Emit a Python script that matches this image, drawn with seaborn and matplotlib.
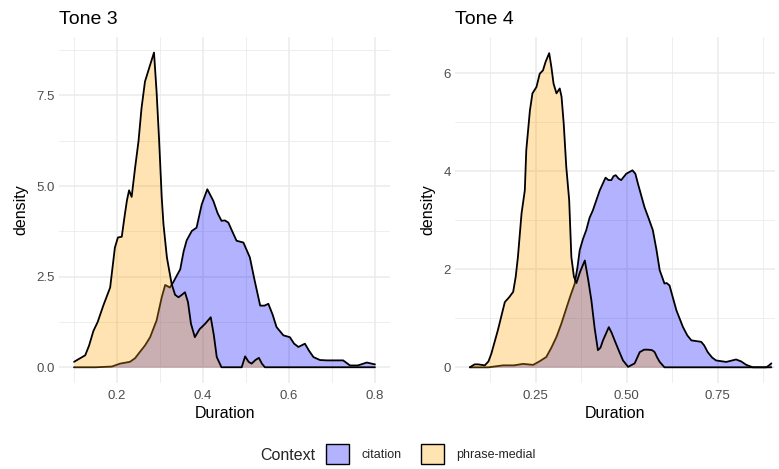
import numpy as np
import pandas as pd
import matplotlib
matplotlib.use("Agg")
import matplotlib.pyplot as plt
import seaborn as sns
from matplotlib.patches import Patch
from matplotlib.ticker import FixedLocator

# ---------------- data ----------------
contexts = ["citation", "phrase-medial"]
panel_titles = ["Tone 3", "Tone 4"]

t3_medial_x = [0.100, 0.110, 0.126, 0.135, 0.145, 0.155, 0.168, 0.184, 0.195, 0.202,
               0.211, 0.218, 0.223, 0.228, 0.234, 0.242, 0.250, 0.257, 0.265, 0.277,
               0.286, 0.292, 0.298, 0.304, 0.308, 0.316, 0.327, 0.335, 0.343, 0.351,
               0.358, 0.365, 0.372, 0.381, 0.392, 0.405, 0.418, 0.425, 0.432, 0.443,
               0.490, 0.498, 0.506, 0.513, 0.522, 0.530, 0.537, 0.544, 0.800]
t3_medial_y = [0.15, 0.22, 0.33, 0.60, 1.00, 1.25, 1.70, 2.20, 3.30, 3.58,
               3.60, 4.20, 4.60, 4.88, 4.70, 5.50, 6.24, 7.15, 7.88, 8.34,
               8.68, 7.60, 6.24, 4.68, 3.95, 3.03, 2.30, 2.00, 1.93, 2.00,
               2.07, 1.80, 1.20, 0.83, 1.05, 1.20, 1.38, 0.90, 0.28, 0.00,
               0.00, 0.30, 0.15, 0.10, 0.20, 0.26, 0.10, 0.00, 0.00]

t3_citation_x = [0.100, 0.150, 0.188, 0.207, 0.230, 0.242, 0.253, 0.265, 0.277, 0.292,
                 0.304, 0.312, 0.323, 0.331, 0.340, 0.347, 0.355, 0.362, 0.374, 0.385,
                 0.397, 0.410, 0.424, 0.434, 0.443, 0.451, 0.459, 0.468, 0.478, 0.494,
                 0.509, 0.520, 0.533, 0.543, 0.552, 0.562, 0.571, 0.587, 0.602, 0.612,
                 0.622, 0.637, 0.647, 0.657, 0.672, 0.688, 0.726, 0.742, 0.760, 0.781, 0.800]
t3_citation_y = [0.00, 0.00, 0.02, 0.10, 0.15, 0.25, 0.42, 0.60, 0.83, 1.29,
                 1.93, 2.27, 2.20, 2.35, 2.55, 2.70, 3.20, 3.50, 3.76, 3.85,
                 4.49, 4.91, 4.59, 4.25, 4.04, 4.05, 3.99, 3.75, 3.49, 3.44,
                 3.03, 2.40, 1.70, 1.70, 1.75, 1.45, 1.11, 0.88, 0.83, 0.65,
                 0.56, 0.65, 0.45, 0.28, 0.20, 0.19, 0.19, 0.05, 0.05, 0.13, 0.08]

t4_medial_x = [0.069, 0.073, 0.082, 0.092, 0.110, 0.120, 0.128, 0.146, 0.165, 0.177,
               0.188, 0.195, 0.201, 0.211, 0.220, 0.224, 0.234, 0.241, 0.252, 0.261,
               0.270, 0.277, 0.287, 0.293, 0.299, 0.307, 0.316, 0.321, 0.327, 0.334,
               0.342, 0.348, 0.355, 0.362, 0.372, 0.385, 0.394, 0.403, 0.412, 0.421,
               0.428, 0.435, 0.451, 0.459, 0.467, 0.478, 0.490, 0.504, 0.522, 0.536,
               0.548, 0.559, 0.570, 0.577, 0.584, 0.591, 0.604, 0.898]
t4_medial_y = [0.00, 0.02, 0.06, 0.06, 0.04, 0.12, 0.28, 0.76, 1.33, 1.43,
               1.54, 1.85, 2.25, 3.14, 3.61, 4.43, 5.24, 5.59, 5.72, 5.99,
               6.06, 6.23, 6.41, 6.13, 5.79, 5.59, 5.69, 5.52, 4.97, 4.09,
               3.41, 2.25, 1.85, 1.72, 1.95, 2.18, 1.80, 1.37, 0.80, 0.35,
               0.40, 0.55, 0.82, 0.70, 0.55, 0.35, 0.14, 0.01, 0.08, 0.31,
               0.36, 0.36, 0.35, 0.31, 0.20, 0.11, 0.00, 0.00]

t4_citation_x = [0.069, 0.120, 0.160, 0.190, 0.215, 0.243, 0.260, 0.279, 0.293, 0.307,
                 0.320, 0.334, 0.345, 0.357, 0.365, 0.371, 0.380, 0.389, 0.398, 0.407,
                 0.426, 0.442, 0.450, 0.458, 0.464, 0.470, 0.478, 0.485, 0.499, 0.516,
                 0.524, 0.531, 0.549, 0.560, 0.572, 0.582, 0.591, 0.604, 0.610, 0.618,
                 0.628, 0.637, 0.655, 0.667, 0.678, 0.705, 0.713, 0.723, 0.735, 0.746,
                 0.774, 0.801, 0.815, 0.829, 0.847, 0.884, 0.890, 0.898]
t4_citation_y = [0.00, 0.00, 0.04, 0.04, 0.07, 0.05, 0.12, 0.21, 0.40, 0.62,
                 0.88, 1.20, 1.45, 1.70, 2.05, 2.39, 2.62, 2.80, 3.05, 3.20,
                 3.61, 3.87, 3.82, 3.82, 3.90, 3.92, 3.85, 3.82, 3.95, 4.02,
                 3.95, 3.75, 3.27, 3.05, 2.80, 2.40, 1.98, 1.71, 1.72, 1.67,
                 1.40, 1.16, 0.82, 0.65, 0.55, 0.52, 0.45, 0.31, 0.20, 0.14,
                 0.11, 0.16, 0.12, 0.05, 0.00, 0.00, 0.03, 0.08]

t3_xticks = [0.2, 0.4, 0.6, 0.8]
t3_xtick_labels = ["0.2", "0.4", "0.6", "0.8"]
t3_yticks = [0.0, 2.5, 5.0, 7.5]
t3_ytick_labels = ["0.0", "2.5", "5.0", "7.5"]
t4_xticks = [0.25, 0.50, 0.75]
t4_xtick_labels = ["0.25", "0.50", "0.75"]
t4_yticks = [0, 2, 4, 6]
t4_ytick_labels = ["0", "2", "4", "6"]

# ---------------- build tables ----------------
def make_df(cx, cy, mx, my):
    a = pd.DataFrame({"Duration": cx, "density": cy, "Context": contexts[0]})
    b = pd.DataFrame({"Duration": mx, "density": my, "Context": contexts[1]})
    return pd.concat([a, b], ignore_index=True)

df3 = make_df(t3_citation_x, t3_citation_y, t3_medial_x, t3_medial_y)
df4 = make_df(t4_citation_x, t4_citation_y, t4_medial_x, t4_medial_y)

# ---------------- style ----------------
sns.set_theme(style="white")
plt.rcParams['font.family'] = ['Liberation Sans', 'DejaVu Sans']

fill_colors = {"citation": (0, 0, 1, 0.3), "phrase-medial": (1, 0.647, 0, 0.3)}
legend_colors = {"citation": "#B2B2FF", "phrase-medial": "#FFE4B2"}
grid_col = "#EBEBEB"

fig = plt.figure(figsize=(7.79, 4.69), dpi=100)
W, H = 779, 469
ax3 = fig.add_axes([59 / W, 1 - 383 / H, (390 - 59) / W, (383 - 37) / H])
ax4 = fig.add_axes([455 / W, 1 - 383 / H, (775 - 455) / W, (383 - 37) / H])

specs = [
    (ax3, df3, panel_titles[0], (0.065, 0.835), (-0.434, 9.11), t3_xticks, t3_xtick_labels,
     t3_yticks, t3_ytick_labels, [0.1, 0.3, 0.5, 0.7], [1.25, 3.75, 6.25, 8.75]),
    (ax4, df4, panel_titles[1], (0.028, 0.908), (-0.32, 6.74), t4_xticks, t4_xtick_labels,
     t4_yticks, t4_ytick_labels, [0.125, 0.375, 0.625, 0.875], [1, 3, 5]),
]

for (ax, df, title, xl, yl, xt, xtl, yt, ytl, xminor, yminor) in specs:
    z = 2
    for ctx in contexts:
        sub = df[df["Context"] == ctx]
        ax.fill_between(sub["Duration"], 0, sub["density"], color=fill_colors[ctx],
                        linewidth=0, zorder=z)
        sns.lineplot(data=sub, x="Duration", y="density", ax=ax, color="black",
                     linewidth=1.3, sort=False, estimator=None, zorder=z + 1,
                     solid_joinstyle="round", solid_capstyle="round")
        z += 2
    ax.set_xlim(*xl)
    ax.set_ylim(*yl)
    ax.set_xticks(xt)
    ax.set_xticklabels(xtl)
    ax.set_yticks(yt)
    ax.set_yticklabels(ytl)
    ax.xaxis.set_minor_locator(FixedLocator(xminor))
    ax.yaxis.set_minor_locator(FixedLocator(yminor))
    ax.grid(which="major", color=grid_col, linewidth=1.1, zorder=0)
    ax.grid(which="minor", color=grid_col, linewidth=0.6, zorder=0)
    ax.set_axisbelow(True)
    for s in ax.spines.values():
        s.set_visible(False)
    ax.tick_params(axis="both", which="both", length=0, labelsize=9.5,
                   labelcolor="#4D4D4D")
    ax.tick_params(axis="x", pad=5)
    ax.tick_params(axis="y", pad=3)
    ax.set_xlabel("Duration", fontsize=11.5, color="black", labelpad=3)
    ax.set_ylabel("density", fontsize=11.5, color="black", labelpad=6)
    ax.set_title(title, loc="left", fontsize=14, pad=9, color="black")
    ax.set_facecolor("white")

# ---------------- legend ----------------
handles = [Patch(facecolor=legend_colors[c], edgecolor="black", linewidth=1.0, label=c)
           for c in contexts]
fig.text(288 / W, 1 - 455 / H, "Context", fontsize=11.5, ha="center", va="center")
fig.legend(handles=handles, loc="center", bbox_to_anchor=(431 / W, 1 - 454 / H),
           ncol=2, frameon=False, fontsize=9, handlelength=1.8, handleheight=2.0,
           handletextpad=1.0, columnspacing=1.6, borderpad=0.0)

fig.savefig("out.png", dpi=100, facecolor="white")
